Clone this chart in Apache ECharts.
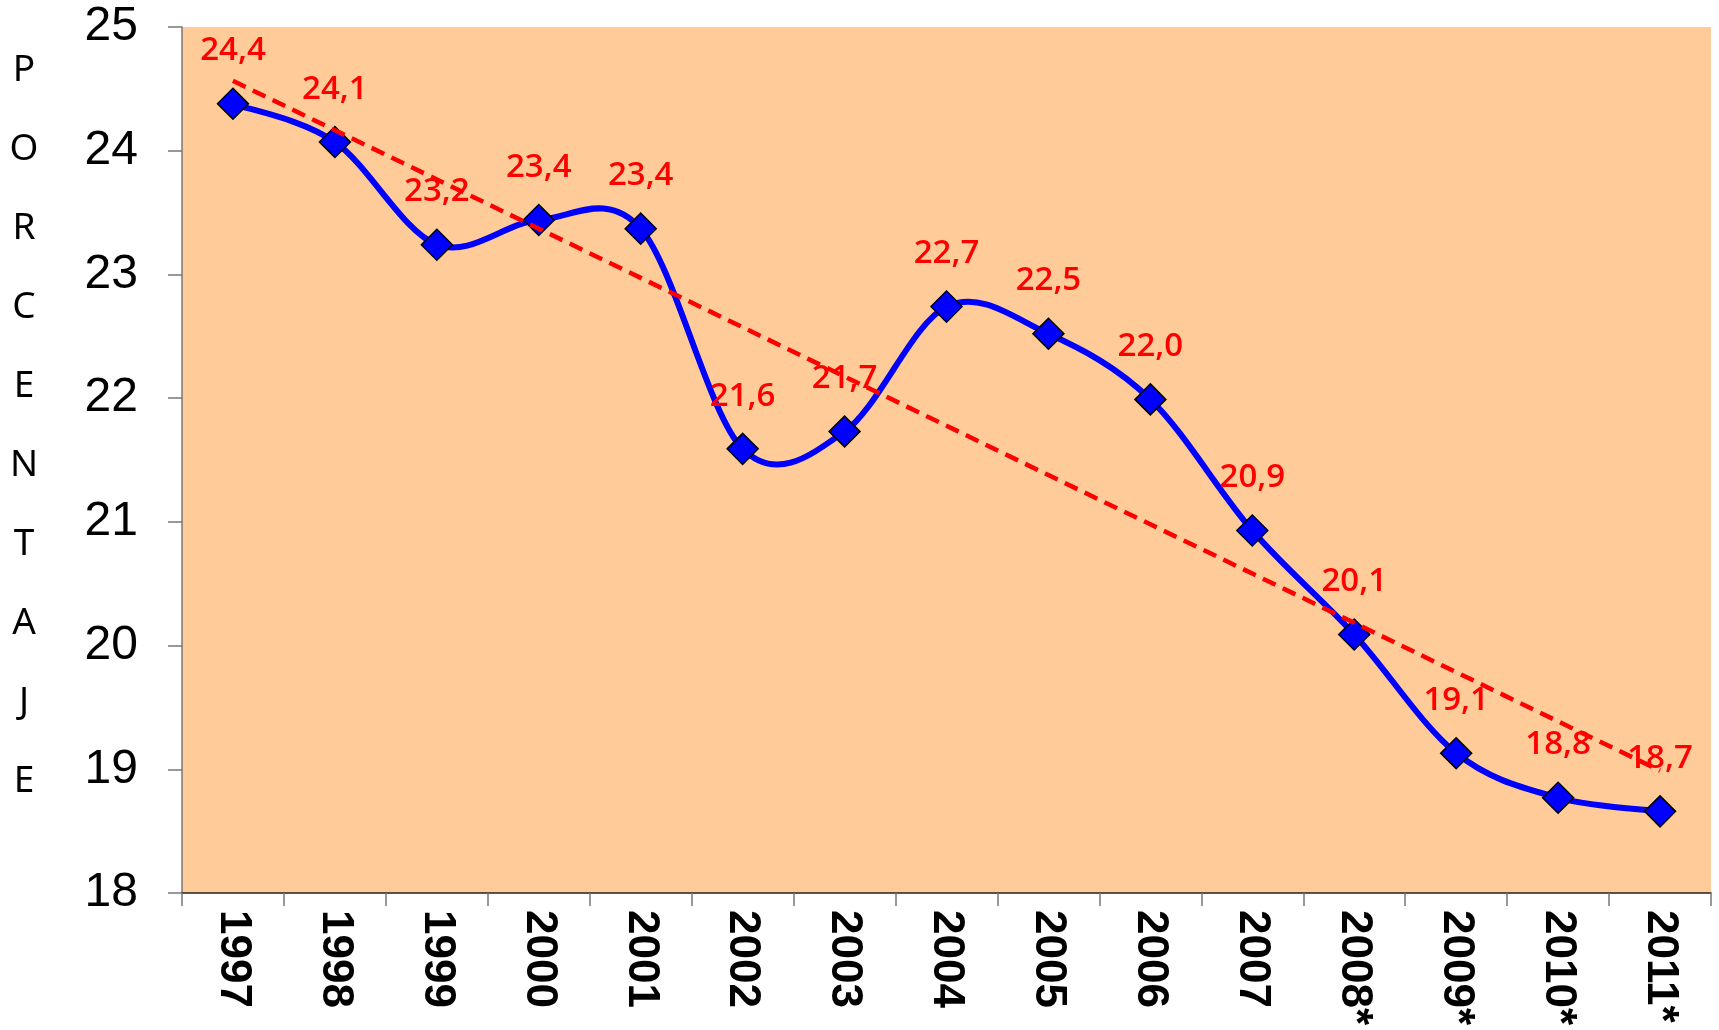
<!DOCTYPE html>
<html>
<head>
    <meta charset="UTF-8">
    <title>Porcentaje 1997-2011</title>
</head>
<body style="margin:0">
    <div id="main" style="width: 1719px;height:1030px;"></div>
    <script src="https://cdn.jsdelivr.net/npm/echarts@6/dist/echarts.min.js"></script>
    <script type="text/javascript">
        // datos
        const years = ['1997', '1998', '1999', '2000', '2001', '2002', '2003', '2004',
            '2005', '2006', '2007', '2008*', '2009*', '2010*', '2011*'];
        const values = [24.38, 24.07, 23.24, 23.44, 23.37, 21.59, 21.73, 22.74,
            22.52, 21.99, 20.93, 20.09, 19.13, 18.77, 18.66];
        const yTicks = [18, 19, 20, 21, 22, 23, 24, 25];
        const axisName = 'PORCENTAJE';

        // linea de tendencia lineal (minimos cuadrados), como en Excel
        const n = values.length;
        const mx = (n - 1) / 2;
        const my = values.reduce((a, b) => a + b, 0) / n;
        let sxy = 0, sxx = 0;
        values.forEach((v, i) => { sxy += (i - mx) * (v - my); sxx += (i - mx) * (i - mx); });
        const slope = sxy / sxx;
        const trend = values.map((v, i) => +(my + slope * (i - mx)).toFixed(3));

        var myChart = echarts.init(document.getElementById('main'));

        // curva suavizada estilo Excel (spline cardinal), puntos via api.coord
        function renderCurve(params, api) {
            const p = values.map((v, i) => api.coord([i, v]));
            let d = 'M' + p[0][0] + ' ' + p[0][1];
            for (let i = 0; i < p.length - 1; i++) {
                const a = p[Math.max(i - 1, 0)], b = p[i], c = p[i + 1], e = p[Math.min(i + 2, p.length - 1)];
                const c1 = [b[0] + (c[0] - a[0]) / 6, b[1] + (c[1] - a[1]) / 6];
                const c2 = [c[0] - (e[0] - b[0]) / 6, c[1] - (e[1] - b[1]) / 6];
                d += ' C' + c1[0] + ' ' + c1[1] + ' ' + c2[0] + ' ' + c2[1] + ' ' + c[0] + ' ' + c[1];
            }
            return {
                type: 'path',
                shape: { pathData: d },
                style: { stroke: '#0000FF', lineWidth: 6, fill: null, lineJoin: 'round' }
            };
        }

        let option = {
            backgroundColor: '#ffffff',
            animation: false,
            grid: {
                left: 182, right: 8, top: 27, bottom: 137,
                show: true, backgroundColor: '#FFCC99', borderWidth: 0
            },
            xAxis: {
                type: 'category',
                data: years,
                boundaryGap: true,
                axisLine: { lineStyle: { color: '#222', width: 1.5 } },
                axisTick: { show: true, length: 13, lineStyle: { color: '#777', width: 1.5 } },
                axisLabel: {
                    rotate: -90, margin: 17, color: '#000',
                    fontFamily: 'Liberation Sans', fontWeight: 'bold', fontSize: 44
                }
            },
            yAxis: {
                type: 'value',
                min: yTicks[0], max: yTicks[yTicks.length - 1], interval: 1,
                splitLine: { show: false },
                axisLine: { show: true, lineStyle: { color: '#777', width: 1.5 } },
                axisTick: { show: true, length: 14, lineStyle: { color: '#777', width: 1.5 } },
                axisLabel: {
                    margin: 44, color: '#000',
                    fontFamily: 'Liberation Sans', fontSize: 48
                }
            },
            graphic: [{
                type: 'text',
                x: 24, y: 31,
                style: {
                    text: axisName.split('').join('\n'),
                    textAlign: 'center', textVerticalAlign: 'top',
                    lineHeight: 79, fill: '#000',
                    font: '37px "Noto Sans"'
                }
            }],
            series: [{
                type: 'custom',
                renderItem: renderCurve,
                data: [[0, values[0]]],
                z: 1,
                silent: true
            }, {
                type: 'line',
                data: values,
                z: 2,
                lineStyle: { width: 0, opacity: 0 },
                symbol: 'diamond',
                symbolSize: 31,
                itemStyle: { color: '#0000FF', borderColor: '#000', borderWidth: 1.5 },
                label: {
                    show: true, position: 'top', distance: 20,
                    color: '#FF0000', fontFamily: 'Open Sans', fontWeight: 600, fontSize: 33,
                    formatter: p => p.value.toFixed(1).replace('.', ',')
                }
            }, {
                type: 'line',
                data: trend,
                z: 5,
                symbol: 'none',
                silent: true,
                lineStyle: { color: '#FF0000', width: 4.5, type: [14, 8] }
            }]
        };

        myChart.setOption(option);
    </script>
</body>
</html>
